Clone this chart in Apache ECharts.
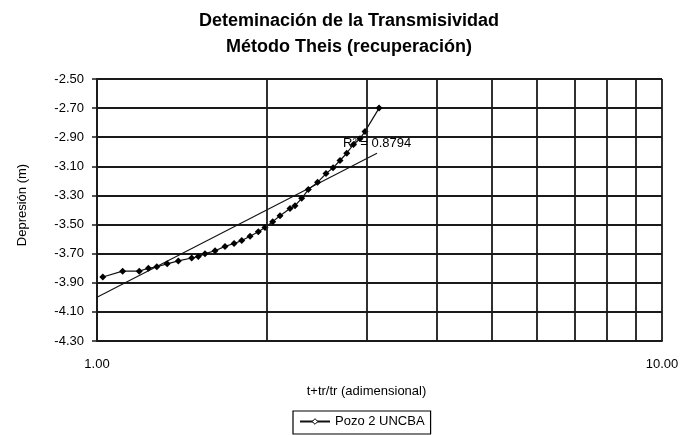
<!DOCTYPE html>
<html>
<head>
<meta charset="utf-8">
<script src="https://cdn.jsdelivr.net/npm/echarts@6/dist/echarts.min.js"></script>
<style>
  html, body { margin: 0; padding: 0; background: #fff; }
  #chart { width: 698px; height: 435px; }
</style>
</head>
<body>
<div id="chart"></div>
<script>
// Pozo 2 UNCBA, t+tr/tr vs depresión
const pozoX = [1.024, 1.110, 1.188, 1.233, 1.276, 1.331, 1.393, 1.471, 1.511, 1.553,
               1.618, 1.685, 1.748, 1.804, 1.866, 1.930, 1.983, 2.046, 2.108, 2.196,
               2.241, 2.303, 2.366, 2.457, 2.543, 2.617, 2.692, 2.767, 2.844, 2.921,
               2.981, 3.157]
const pozoY = [-3.86, -3.82, -3.82, -3.80, -3.79, -3.77, -3.75, -3.73, -3.72, -3.70,
               -3.68, -3.65, -3.63, -3.61, -3.58, -3.55, -3.52, -3.48, -3.44, -3.39,
               -3.37, -3.32, -3.26, -3.21, -3.15, -3.11, -3.06, -3.01, -2.95, -2.91,
               -2.86, -2.70]

// logarithmic trendline ends
const trendX = [1.0, 3.13]
const trendY = [-4.00, -3.01]

// vertical grid at 2..9
const xGridValues = [2, 3, 4, 5, 6, 7, 8, 9]

const font = "'Liberation Sans', Arial, sans-serif"
const chart = echarts.init(document.getElementById("chart"))

const gridLine = { color: "#1a1a1a", width: 1.8 }

const option = {
    animation: false,
    backgroundColor: "#fff",
    title: {
        text: "Deteminación de la Transmisividad\nMétodo Theis (recuperación)",
        left: "center",
        top: 8,
        padding: [0, 0, 0, 10],
        textStyle: {
            fontFamily: font,
            fontSize: 18,
            fontWeight: "bold",
            color: "#000",
            lineHeight: 26,
        },
    },
    grid: { left: 97, right: 36, top: 79, bottom: 94 },
    legend: {
        data: ["Pozo 2 UNCBA"],
        left: 293,
        top: 411,
        borderColor: "#000",
        borderWidth: 1.2,
        borderRadius: 0,
        padding: [4, 6, 6, 6],
        itemWidth: 30,
        itemHeight: 7,
        itemGap: 4,
        itemStyle: { color: "#fff", borderColor: "#000", borderWidth: 1 },
        textStyle: { fontFamily: font, fontSize: 13, color: "#000" },
    },
    xAxis: {
        type: "log",
        logBase: 10,
        min: 1,
        max: 10,
        name: "t+tr/tr (adimensional)",
        nameLocation: "middle",
        nameGap: 44,
        nameTextStyle: { fontFamily: font, fontSize: 13, color: "#000", padding: [0, 26, 0, 0] },
        axisLine: { show: true, lineStyle: gridLine },
        axisTick: { show: false },
        axisLabel: {
            margin: 17,
            fontFamily: font,
            fontSize: 13,
            color: "#000",
            formatter: (v) => v.toFixed(2),
        },
        splitLine: { show: true, lineStyle: gridLine },
    },
    yAxis: {
        type: "value",
        min: -4.3,
        max: -2.5,
        interval: 0.2,
        name: "Depresión (m)",
        nameLocation: "middle",
        nameGap: 68,
        nameRotate: 90,
        nameTextStyle: { fontFamily: font, fontSize: 13, color: "#000", padding: [0, 0, 0, 10] },
        axisLine: { show: true, lineStyle: gridLine },
        axisTick: { show: true, inside: false, length: 5, lineStyle: { color: "#1a1a1a", width: 1.5 } },
        axisLabel: {
            margin: 13,
            fontFamily: font,
            fontSize: 13,
            color: "#000",
            formatter: (v) => v.toFixed(2),
        },
        splitLine: { show: true, lineStyle: gridLine },
    },
    series: [
        {
            name: "trend",
            type: "line",
            data: trendX.map((x, i) => [x, trendY[i]]),
            symbol: "none",
            silent: true,
            lineStyle: { color: "#111", width: 1.1 },
            markLine: {
                silent: true,
                symbol: "none",
                label: { show: false },
                lineStyle: { color: "#1a1a1a", width: 1.8, type: "solid" },
                data: xGridValues.map((v) => ({ xAxis: v })),
            },
            z: 2,
        },
        {
            name: "Pozo 2 UNCBA",
            type: "line",
            data: pozoX.map((x, i) => [x, pozoY[i]]),
            symbol: "diamond",
            symbolSize: 7,
            itemStyle: { color: "#000" },
            lineStyle: { color: "#111", width: 1.2 },
            z: 3,
        },
    ],
    graphic: [
        {
            type: "text",
            left: 343,
            top: 137,
            style: {
                text: "R² = 0.8794",
                font: "13px " + font,
                fill: "#000",
            },
            z: 10,
        },
    ],
}

chart.setOption(option)
</script>
</body>
</html>
